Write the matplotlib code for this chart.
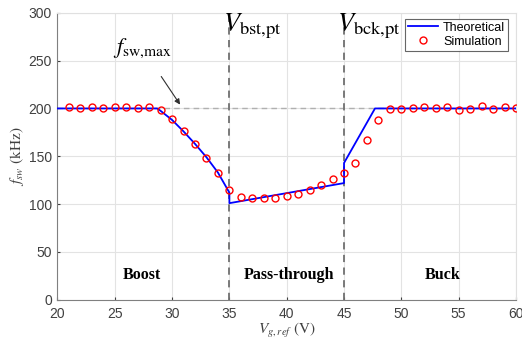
import matplotlib.pyplot as plt
import numpy as np

plt.rcParams['mathtext.fontset'] = 'stix'
plt.rcParams['font.family'] = 'Liberation Sans'

# simulation points
v_sim = np.arange(21, 61)
f_sim = [201, 200, 201.4, 200.3, 201.7, 201.4, 200.7, 201.7, 198.3, 188.5,
         176.3, 162.7, 148.4, 132.2, 115, 107.3, 106.3, 105.9, 106.6, 108.3,
         111.1, 115, 120.2, 126.1, 133, 142.9, 167.3, 188.2, 199.4, 199.7,
         200.6, 201.7, 200.7, 201, 198.6, 199.3, 202.4, 199.7, 201.7, 200.7]

# theoretical curve
v_th = [20, 28.7, 29, 30, 31, 32, 33, 34, 35, 35, 45, 45, 47.7, 60]
f_th = [200, 200, 197.5, 188, 176, 163, 149, 133, 112, 101, 122, 143, 200, 200]

v_bst = 35
v_bck = 45
f_max = 200

fig = plt.figure(figsize=(5.22, 3.45), dpi=100)
ax = fig.add_axes([0.11, 0.131, 0.8785, 0.832])

gray = '#404040'
ax.grid(True, color='#e3e3e3', linewidth=0.8)
ax.set_axisbelow(True)

ax.axhline(f_max, color='#b0b0b0', linestyle='--', linewidth=1.0, dashes=(4, 3), zorder=1)
ax.axvline(v_bst, color='#707070', linestyle='--', linewidth=1.3, dashes=(4, 3), zorder=1)
ax.axvline(v_bck, color='#707070', linestyle='--', linewidth=1.3, dashes=(4, 3), zorder=1)

ax.plot(v_th, f_th, color='#0000ff', linewidth=1.3, label='Theoretical', zorder=3)
ax.plot(v_sim, f_sim, 'o', markerfacecolor='none', markeredgecolor='#ff0000',
        markersize=5, markeredgewidth=1.0, label='Simulation', zorder=4)

ax.set_xlim(20, 60)
ax.set_ylim(0, 300)
ax.set_xticks(np.arange(20, 61, 5))
ax.set_yticks(np.arange(0, 301, 50))
ax.tick_params(colors=gray, labelsize=10, length=2, direction='in', top=False, right=False)
ax.tick_params(axis='x', pad=5)
ax.tick_params(axis='y', pad=4)
for s in ['left', 'bottom']:
    ax.spines[s].set_color('#808080')
for s in ['top', 'right']:
    ax.spines[s].set_color('#e0e0e0')

ax.set_xlabel(r'$V_{g,ref}$ $\mathrm{(V)}$', fontsize=11, color=gray, labelpad=0)
ax.set_ylabel(r'$f_{sw}$ $\mathrm{(kHz)}$', fontsize=11, color=gray, labelpad=2)

ax.text(34.4, 286, r'$V_{\mathrm{bst{,}pt}}$', fontsize=19, ha='left', va='center', clip_on=False)
ax.text(44.4, 286, r'$V_{\mathrm{bck{,}pt}}$', fontsize=19, ha='left', va='center', clip_on=False)

ax.annotate(r'$f_{\mathrm{sw{,}max}}$', xy=(30.7, 204), xytext=(27.4, 263),
            fontsize=16, ha='center', va='center',
            arrowprops=dict(arrowstyle='-|>', color='#303030', lw=0.8,
                            mutation_scale=8, shrinkA=12, shrinkB=0))

for x, t in [(27.4, 'Boost'), (40.2, 'Pass-through'), (53.6, 'Buck')]:
    ax.text(x, 26, t, fontsize=11.5, fontweight='bold', family='Liberation Serif',
            ha='center', va='center')

leg = ax.legend(loc='upper right', bbox_to_anchor=(0.983, 0.98), fontsize=9,
                frameon=True, fancybox=False, edgecolor='#404040',
                handlelength=2.4, borderpad=0.25, labelspacing=0.15,
                handletextpad=0.4, borderaxespad=0.0)
leg.get_frame().set_linewidth(0.8)

fig.savefig('out.png', dpi=100)
